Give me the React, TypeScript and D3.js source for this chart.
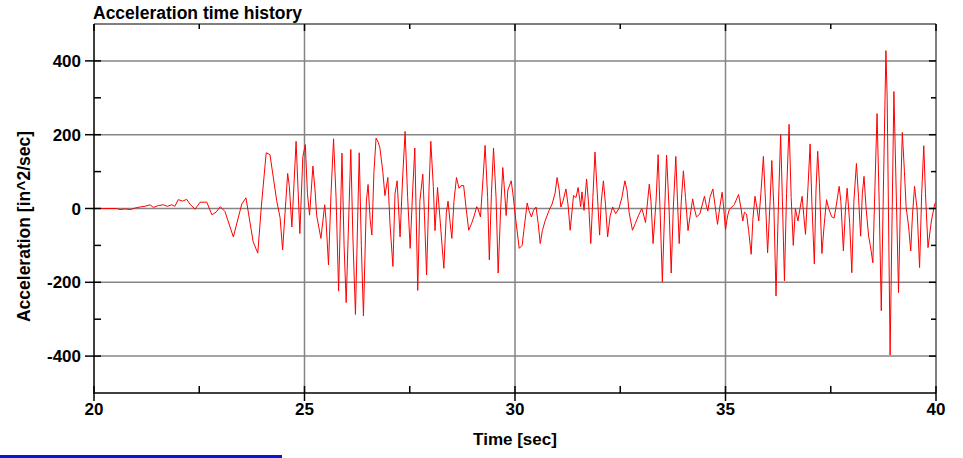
import React from "react";
import * as d3 from "d3";

// time history samples (sec, in^2/sec)
const times = [
  20.0, 20.54, 20.62, 20.74, 20.86, 20.97, 21.09, 21.21, 21.33, 21.41, 21.53, 21.65, 21.74, 21.85, 21.92,
  22.0, 22.11, 22.2, 22.28, 22.4, 22.52, 22.68, 22.8, 22.9, 23.0, 23.11, 23.31, 23.51, 23.61, 23.78,
  23.89, 23.98, 24.09, 24.18, 24.34, 24.42, 24.48, 24.6, 24.64, 24.7, 24.8, 24.89, 24.96, 25.02, 25.07,
  25.12, 25.2, 25.25, 25.29, 25.39, 25.48, 25.51, 25.57, 25.63, 25.69, 25.75, 25.81, 25.89, 25.94, 25.99,
  26.1, 26.15, 26.21, 26.3, 26.35, 26.4, 26.47, 26.51, 26.56, 26.6, 26.65, 26.7, 26.75, 26.79, 26.86,
  26.91, 26.98, 27.03, 27.1, 27.15, 27.2, 27.27, 27.33, 27.39, 27.45, 27.51, 27.57, 27.62, 27.69, 27.74,
  27.81, 27.85, 27.9, 27.96, 28.0, 28.06, 28.1, 28.16, 28.22, 28.31, 28.37, 28.41, 28.46, 28.5, 28.55,
  28.61, 28.67, 28.72, 28.78, 28.84, 28.9, 28.97, 29.03, 29.09, 29.12, 29.18, 29.24, 29.29, 29.35, 29.39,
  29.44, 29.49, 29.55, 29.6, 29.66, 29.71, 29.75, 29.79, 29.83, 29.91, 29.95, 30.02, 30.1, 30.17, 30.21,
  30.29, 30.33, 30.39, 30.44, 30.5, 30.55, 30.6, 30.65, 30.72, 30.81, 30.88, 30.95, 31.0, 31.05, 31.09,
  31.14, 31.21, 31.26, 31.31, 31.39, 31.45, 31.5, 31.56, 31.59, 31.64, 31.7, 31.75, 31.8, 31.85, 31.9,
  31.95, 32.01, 32.05, 32.1, 32.15, 32.2, 32.26, 32.32, 32.39, 32.47, 32.54, 32.61, 32.66, 32.71, 32.79,
  32.86, 32.93, 33.01, 33.05, 33.1, 33.15, 33.19, 33.23, 33.28, 33.35, 33.4, 33.45, 33.5, 33.55, 33.6,
  33.66, 33.71, 33.76, 33.82, 33.86, 33.9, 33.95, 34.0, 34.05, 34.11, 34.16, 34.22, 34.26, 34.31, 34.39,
  34.5, 34.54, 34.58, 34.63, 34.7, 34.75, 34.81, 34.86, 34.92, 34.95, 35.0, 35.05, 35.09, 35.21, 35.31,
  35.37, 35.41, 35.45, 35.5, 35.55, 35.61, 35.65, 35.7, 35.75, 35.79, 35.84, 35.9, 35.95, 36.0, 36.06,
  36.1, 36.15, 36.2, 36.26, 36.31, 36.35, 36.4, 36.45, 36.51, 36.56, 36.61, 36.66, 36.72, 36.77, 36.82,
  36.86, 36.9, 36.96, 37.01, 37.05, 37.11, 37.15, 37.19, 37.23, 37.29, 37.34, 37.4, 37.45, 37.52, 37.58,
  37.62, 37.7, 37.74, 37.8, 37.85, 37.89, 37.95, 38.0, 38.05, 38.11, 38.16, 38.21, 38.25, 38.29, 38.34,
  38.4, 38.44, 38.5, 38.55, 38.6, 38.65, 38.7, 38.75, 38.81, 38.84, 38.87, 38.91, 38.96, 39.0, 39.06,
  39.11, 39.16, 39.2, 39.25, 39.29, 39.35, 39.4, 39.44, 39.49, 39.55, 39.61, 39.66, 39.71, 39.75, 39.81,
  39.89, 39.97, 40.0,
];

const accel = [
  0, 0, -3, -1, -3, 1, 4, 6, 10, 3, 8, 10, 6, 10, 6,
  24, 20, 25, 12, -2, 17, 17, -17, -10, 5, -8, -77, 12, 29, -90,
  -121, 12, 151, 146, 21, -25, -112, 95, 60, -50, 182, -68, 140, 173, 40,
  -18, 115, 50, -20, -81, 10, -30, -153, 40, 189, 30, -224, 150, -100, -255,
  160, -80, -287, 151, -100, -291, 20, 65, -30, -72, 100, 191, 180, 165, 100,
  35, 84, -40, -157, 40, 75, -77, 80, 209, 30, -108, 50, 164, -222, 20,
  93, -20, -180, 60, 182, 60, -60, 57, -30, -162, -10, 20, -40, -81, 20,
  84, 55, 62, 62, 0, -59, -40, -20, 5, 0, -23, 80, 171, 30, -139,
  40, 164, 30, -175, 0, 111, 50, -19, 50, 75, 40, -32, -108, -100, -60,
  15, -5, -23, -5, 4, -40, -95, -60, -32, -5, 12, 40, 84, 50, 4,
  20, 53, 10, -59, 35, 30, 57, 5, 45, -5, 80, 10, -95, 30, 153,
  50, -72, 20, 75, 10, -77, -20, 4, -14, 0, 30, 75, 50, -10, -59,
  -40, -20, 0, -15, -38, 20, 66, 20, -95, 20, 146, -20, -199, -20, 145,
  0, -175, 0, 141, 20, -95, 20, 102, 30, -60, -20, 26, 0, -23, -15,
  33, 10, -7, 30, 53, 10, -43, 0, 44, 10, -57, -20, -3, 11, 38,
  0, -34, -10, -15, -60, -124, -30, 33, 0, -34, 40, 141, 20, -120, 20,
  130, 0, -237, 20, 200, 30, -196, 40, 228, 30, -100, 0, -34, 0, 33,
  -20, -70, 60, 175, 20, -150, 50, 155, 70, -122, -50, 24, 0, -22, -26,
  0, 60, 20, -115, 0, 55, -40, -174, 20, 122, 30, -75, 40, 87, 0,
  -75, -100, -147, 60, 257, 20, -277, 50, 428, 300, 0, -397, 0, 317, 20,
  -228, 40, 206, 100, 5, -50, -115, -20, 60, 0, -160, 40, 170, 40, -106,
  -34, 13, 15,
];

const xTicks = [20, 25, 30, 35, 40];
const xMinorTicks = [22.5, 27.5, 32.5, 37.5];
const yTicks = [-400, -200, 0, 200, 400];
const yMinorTicks = [-300, -100, 100, 300];

const font = "'Liberation Sans', Arial, sans-serif";

export default function App() {
  const width = 963,
    height = 458;
  const margin = { top: 24, right: 27, bottom: 65, left: 94 };
  const x0 = margin.left,
    x1 = width - margin.right,
    y0 = margin.top,
    y1 = height - margin.bottom;

  const x = d3.scaleLinear().domain([20, 40]).range([x0, x1]);
  const y = d3.scaleLinear().domain([-500, 500]).range([y1, y0]);

  const data = times.map((t, i) => ({ t, v: accel[i] }));
  const line = d3
    .line<{ t: number; v: number }>()
    .x((d) => x(d.t))
    .y((d) => y(d.v));

  const gridColor = "#858585";

  return (
    <svg
      width={width}
      height={height}
      style={{ position: "absolute", left: 0, top: 0, background: "#fff" }}
    >
      {/* gridlines */}
      {xTicks.slice(1, -1).map((t) => (
        <line key={"gx" + t} x1={x(t)} x2={x(t)} y1={y0} y2={y1} stroke={gridColor} strokeWidth={1.5} />
      ))}
      {yTicks.map((t) => (
        <line key={"gy" + t} x1={x0} x2={x1} y1={y(t)} y2={y(t)} stroke={gridColor} strokeWidth={1.5} />
      ))}

      {/* data */}
      <path d={line(data) || ""} fill="none" stroke="#ff0000" strokeWidth={1} />

      {/* frame */}
      <line x1={x0} x2={x1} y1={y0} y2={y0} stroke="#555" strokeWidth={1.5} />
      <line x1={x1} x2={x1} y1={y0} y2={y1} stroke="#555" strokeWidth={1.5} />
      <line x1={x0} x2={x0} y1={y0} y2={y1 + 1} stroke="#000" strokeWidth={1.5} />
      <line x1={x0} x2={x1} y1={y1} y2={y1} stroke="#000" strokeWidth={1.5} />

      {/* y ticks */}
      {yTicks.map((t) => (
        <g key={"yt" + t}>
          <line x1={x0 - 9} x2={x0 + 7} y1={y(t)} y2={y(t)} stroke="#000" strokeWidth={1.5} />
          <line x1={x1 - 7} x2={x1} y1={y(t)} y2={y(t)} stroke="#000" strokeWidth={1.5} />
          <text
            x={x0 - 13}
            y={y(t)}
            dy="0.36em"
            textAnchor="end"
            fontFamily={font}
            fontWeight="bold"
            fontSize={17}
            fill="#000"
          >
            {t}
          </text>
        </g>
      ))}
      {yMinorTicks.map((t) => (
        <g key={"ym" + t}>
          <line x1={x0} x2={x0 + 7} y1={y(t)} y2={y(t)} stroke="#000" strokeWidth={1.5} />
          <line x1={x1 - 5} x2={x1} y1={y(t)} y2={y(t)} stroke="#000" strokeWidth={1.5} />
        </g>
      ))}

      {/* x ticks */}
      {xTicks.map((t) => (
        <g key={"xt" + t}>
          <line x1={x(t)} x2={x(t)} y1={y1 - 7} y2={y1 + 8} stroke="#000" strokeWidth={1.5} />
          <line x1={x(t)} x2={x(t)} y1={y0} y2={y0 + 7} stroke="#000" strokeWidth={1.5} />
          <text
            x={x(t)}
            y={y1 + 22}
            textAnchor="middle"
            fontFamily={font}
            fontWeight="bold"
            fontSize={17}
            fill="#000"
          >
            {t}
          </text>
        </g>
      ))}
      {xMinorTicks.map((t) => (
        <g key={"xm" + t}>
          <line x1={x(t)} x2={x(t)} y1={y1 - 7} y2={y1} stroke="#000" strokeWidth={1.5} />
          <line x1={x(t)} x2={x(t)} y1={y0} y2={y0 + 5} stroke="#000" strokeWidth={1.5} />
        </g>
      ))}

      {/* titles */}
      <text x={x0 - 1} y={y0 - 5} fontFamily={font} fontWeight="bold" fontSize={17.5} fill="#000">
        Acceleration time history
      </text>
      <text
        x={(x0 + x1) / 2}
        y={y1 + 52}
        textAnchor="middle"
        fontFamily={font}
        fontWeight="bold"
        fontSize={17}
        fill="#000"
      >
        Time [sec]
      </text>
      <text
        transform={`translate(30, ${(y0 + y1) / 2 + 18}) rotate(-90)`}
        textAnchor="middle"
        fontFamily={font}
        fontWeight="bold"
        fontSize={17.5}
        fill="#000"
      >
        Acceleration [in^2/sec]
      </text>

      {/* blue strip at the lower left edge */}
      <rect x={0} y={455} width={282} height={3} fill="#0a14d8" />
    </svg>
  );
}
